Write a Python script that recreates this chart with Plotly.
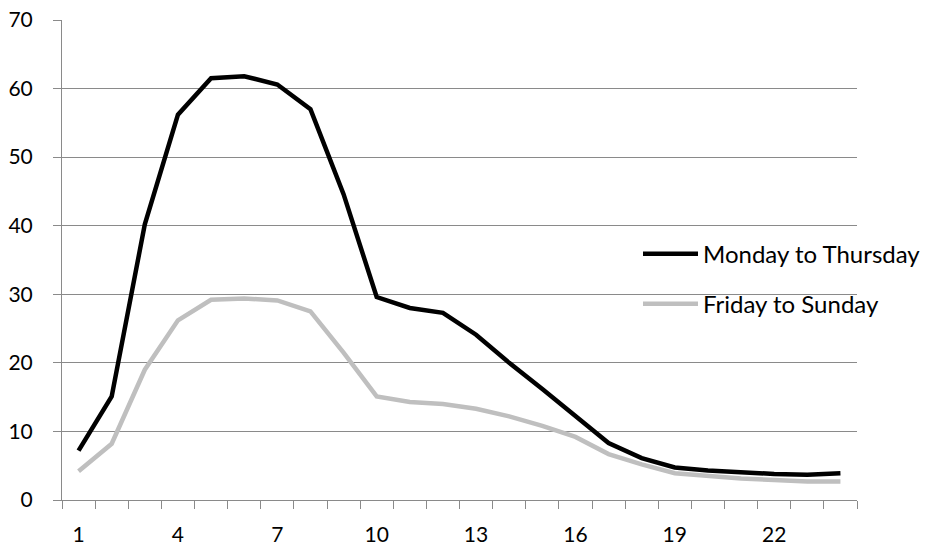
import plotly.graph_objects as go

hours = list(range(1, 25))
tick_vals = [1, 4, 7, 10, 13, 16, 19, 22]
tick_text = ["1", "4", "7", "10", "13", "16", "19", "22"]

mon_thu = [7.2, 15.1, 40.2, 56.2, 61.5, 61.8, 60.6, 57.0, 44.6, 29.6, 28.0, 27.3,
           24.1, 20.0, 16.2, 12.3, 8.3, 6.1, 4.75, 4.3, 4.0, 3.8, 3.7, 3.9]
fri_sun = [4.2, 8.2, 19.0, 26.2, 29.2, 29.4, 29.1, 27.5, 21.5, 15.1, 14.3, 14.0,
           13.3, 12.2, 10.8, 9.2, 6.7, 5.2, 3.9, 3.5, 3.15, 2.9, 2.7, 2.7]

GRID = "#8a8a8a"
FONT = "Lato"

fig = go.Figure()
fig.add_trace(go.Scatter(x=hours, y=mon_thu, mode="lines", name="Monday to Thursday",
                         line=dict(color="#000000", width=4.5), legend="legend"))
fig.add_trace(go.Scatter(x=hours, y=fri_sun, mode="lines", name="Friday to Sunday",
                         line=dict(color="#bfbfbf", width=4.5), legend="legend2"))

# plot area: x 62..857, y 19.5..500 (px)
PL, PR, PT, PB = 62, 857, 19.5, 500
def px_x(p):
    return (p - PL) / (PR - PL)
def px_y(p):
    return (PB - p) / (PB - PT)

legend_common = dict(
    xref="paper", yref="paper", xanchor="left", yanchor="middle",
    bgcolor="rgba(0,0,0,0)", font=dict(family=FONT, size=24, color="#000"),
    itemwidth=55, borderwidth=0,
)

fig.update_layout(
    width=929, height=547,
    margin=dict(l=PL, r=929 - PR, t=PT, b=547 - PB, autoexpand=False),
    paper_bgcolor="white", plot_bgcolor="white",
    font=dict(family=FONT, size=21, color="#000"),
    showlegend=True,
    legend=dict(x=px_x(638), y=px_y(254), **legend_common),
    legend2=dict(x=px_x(638), y=px_y(304), **legend_common),
    xaxis=dict(
        range=[0.5, 24.5], tickmode="array", tickvals=tick_vals, ticktext=tick_text,
        ticks="", showgrid=False, zeroline=False,
        showline=True, linecolor=GRID, linewidth=1,
        ticklabelstandoff=16,
        minor=dict(ticks="outside", tick0=0.5, dtick=1, ticklen=8, tickcolor=GRID,
                   tickwidth=1, showgrid=False),
        tickfont=dict(family=FONT, size=21, color="#000"),
    ),
    yaxis=dict(
        range=[0, 70], dtick=10, ticks="outside", ticklen=8, tickcolor=GRID, tickwidth=1,
        showgrid=True, gridcolor=GRID, gridwidth=1, zeroline=False,
        showline=True, linecolor=GRID, linewidth=1,
        ticklabelstandoff=16,
        tickfont=dict(family=FONT, size=21, color="#000"),
    ),
)

fig.write_html("out.html")
